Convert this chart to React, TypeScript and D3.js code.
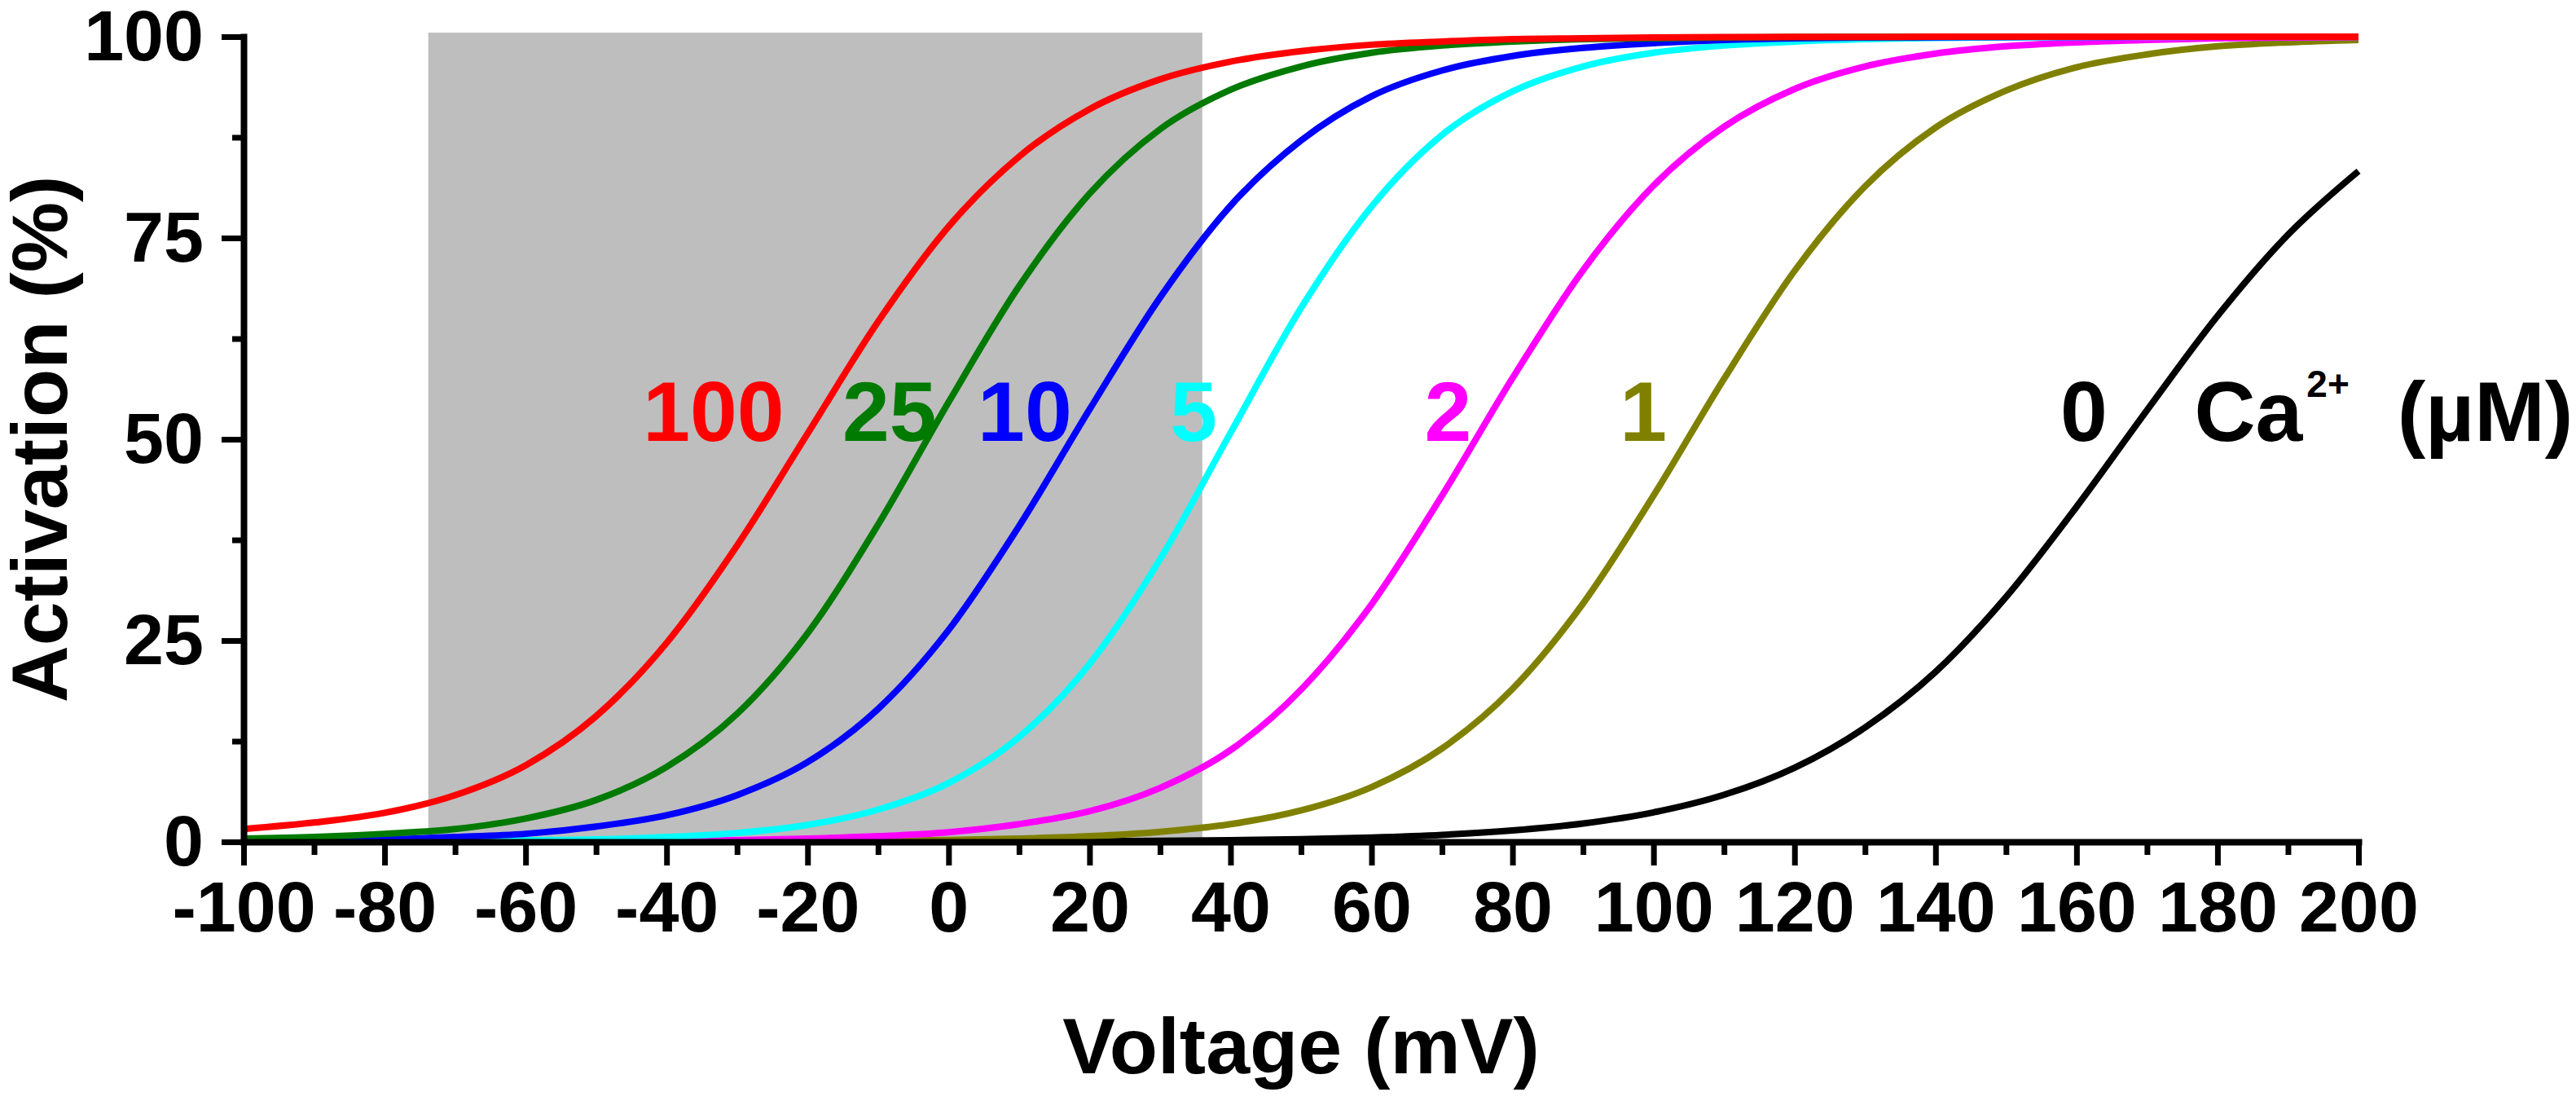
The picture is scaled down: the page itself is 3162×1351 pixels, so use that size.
import React, { useRef, useEffect } from 'react';
import * as d3 from 'd3';

// membrane voltage sample points (mV)
const voltages = [
  -100, -90, -80, -70, -60, -50, -40, -30, -20, -10, 0, 10, 20, 30, 40, 50,
  60, 70, 80, 90, 100, 110, 120, 130, 140, 150, 160, 170, 180, 190, 200,
];

// activation (%) at the voltages above
const act100 = [1.6, 2.4, 3.6, 5.8, 9.5, 15.6, 24.7, 36.8, 50.7, 64.6, 76.4, 85.1, 91.0, 94.7, 96.9, 98.2, 99.0, 99.4, 99.7, 99.8, 99.9, 99.95, 99.97, 99.98, 99.99, 100, 100, 100, 100, 100, 100];
const act25 = [0.4, 0.6, 1.0, 1.6, 2.9, 5.2, 9.3, 15.9, 25.9, 39.4, 54.6, 69.0, 80.5, 88.5, 93.4, 96.3, 98.0, 98.9, 99.4, 99.7, 99.8, 99.9, 99.95, 99.97, 99.99, 100, 100, 100, 100, 100, 100];
const act10 = [0.1, 0.2, 0.3, 0.6, 1.0, 1.9, 3.3, 5.8, 9.9, 16.5, 26.3, 39.2, 53.7, 67.6, 79.0, 87.1, 92.6, 95.8, 97.6, 98.6, 99.2, 99.6, 99.8, 99.9, 99.93, 99.96, 99.98, 99.99, 100, 100, 100];
const act5 = [0, 0, 0.05, 0.1, 0.2, 0.3, 0.6, 1.1, 2.1, 4.0, 7.3, 13.0, 22.1, 35.1, 50.8, 66.3, 78.9, 87.8, 93.2, 96.3, 98.0, 98.9, 99.4, 99.7, 99.85, 99.92, 99.96, 99.98, 99.99, 100, 100];
const act2 = [0, 0, 0, 0, 0.04, 0.07, 0.12, 0.2, 0.4, 0.7, 1.2, 2.2, 3.8, 6.7, 11.4, 18.9, 29.5, 43.0, 57.6, 71.0, 81.5, 88.8, 93.5, 96.3, 97.9, 98.8, 99.3, 99.6, 99.8, 99.9, 99.94];
const act1 = [0, 0, 0, 0, 0, 0, 0.02, 0.04, 0.07, 0.12, 0.22, 0.4, 0.7, 1.25, 2.2, 3.9, 6.8, 11.6, 19.0, 29.6, 43.0, 57.5, 70.9, 81.4, 88.7, 93.3, 96.2, 97.8, 98.8, 99.3, 99.6];
const act0 = [0, 0, 0, 0, 0, 0, 0, 0.01, 0.01, 0.02, 0.03, 0.05, 0.08, 0.13, 0.2, 0.33, 0.54, 0.87, 1.42, 2.28, 3.66, 5.84, 9.2, 14.2, 21.1, 30.4, 41.6, 53.6, 65.3, 75.4, 83.3];

// Ca2+ concentrations (µM), in drawing order (red last = on top)
const calcium = ['0', '1', '2', '5', '10', '25', '100'];
const seriesValues = [act0, act1, act2, act5, act10, act25, act100];
const seriesColors = ['#000000', '#808000', '#ff00ff', '#00ffff', '#0000ff', '#007a00', '#ff0000'];
// voltage where each curve label ends (right edge of the text)
const labelEnds = [164.4, 101.9, 74.2, 38.1, 17.5, -1.7, -23.3];

// shaded voltage window
const shadeRange = [-73.8, 36];

const xMajor = [-100, -80, -60, -40, -20, 0, 20, 40, 60, 80, 100, 120, 140, 160, 180, 200];
const xMinor = [-90, -70, -50, -30, -10, 10, 30, 50, 70, 90, 110, 130, 150, 170, 190];
const yMajor = [0, 25, 50, 75, 100];
const yMinor = [12.5, 37.5, 62.5, 87.5];

const W = 3162;
const H = 1351;
const FONT = '"Liberation Sans", Arial, sans-serif';

const App: React.FC = () => {
  const svgRef = useRef<SVGSVGElement>(null);

  useEffect(() => {
    if (!svgRef.current) return;
    const svg = d3.select(svgRef.current);
    svg.selectAll('*').remove();

    const x = d3.scaleLinear().domain([-100, 200]).range([299, 2895]);
    const y = d3.scaleLinear().domain([0, 100]).range([1033, 45]);

    // grey window
    svg.append('rect')
      .attr('x', x(shadeRange[0]))
      .attr('y', y(100.5))
      .attr('width', x(shadeRange[1]) - x(shadeRange[0]))
      .attr('height', y(0) - y(100.5))
      .attr('fill', '#bebebe');

    // curves
    const line = d3.line<number>()
      .x((_, i) => x(voltages[i]))
      .y(d => y(d))
      .curve(d3.curveMonotoneX);

    svg.append('g')
      .selectAll('path')
      .data(seriesValues)
      .join('path')
      .attr('d', d => line(d))
      .attr('fill', 'none')
      .attr('stroke', (_, i) => seriesColors[i])
      .attr('stroke-width', 8);

    // curve labels
    svg.append('g')
      .selectAll('text')
      .data(calcium)
      .join('text')
      .attr('x', (_, i) => x(labelEnds[i]))
      .attr('y', y(50) + 2)
      .attr('text-anchor', 'end')
      .attr('font-family', FONT)
      .attr('font-weight', 'bold')
      .attr('font-size', 104)
      .attr('fill', (_, i) => seriesColors[i])
      .text(d => d);

    const unit = svg.append('text')
      .attr('x', x(176.7))
      .attr('y', y(50) + 2)
      .attr('font-family', FONT)
      .attr('font-weight', 'bold')
      .attr('font-size', 104)
      .attr('fill', '#000');
    unit.append('tspan').text('Ca');
    unit.append('tspan').attr('dx', 5).attr('dy', -54).attr('font-size', 46).text('2+');
    unit.append('tspan').attr('dx', 30).attr('dy', 54).text(' (µM)');

    // axes
    const tickText = (d: d3.NumberValue) => String(d);
    const styleAxis = (g: d3.Selection<SVGGElement, unknown, null, undefined>) => {
      g.select('.domain').attr('stroke-width', 8).attr('stroke-linecap', 'square');
      g.selectAll('.tick line').attr('stroke-width', 7);
      g.selectAll('.tick text')
        .attr('font-family', FONT)
        .attr('font-weight', 'bold')
        .attr('font-size', 88)
        .attr('fill', '#000');
    };

    svg.append('g')
      .attr('transform', `translate(0,${y(0)})`)
      .call(d3.axisBottom(x).tickValues(xMinor).tickSize(16).tickSizeOuter(0).tickFormat(() => ''))
      .call(g => g.select('.domain').remove())
      .call(g => g.selectAll('.tick line').attr('stroke-width', 7));

    svg.append('g')
      .attr('transform', `translate(0,${y(0)})`)
      .call(d3.axisBottom(x).tickValues(xMajor).tickSize(29).tickSizeOuter(0).tickPadding(19).tickFormat(tickText))
      .call(styleAxis);

    svg.append('g')
      .attr('transform', `translate(${x(-100)},0)`)
      .call(d3.axisLeft(y).tickValues(yMinor).tickSize(14).tickSizeOuter(0).tickFormat(() => ''))
      .call(g => g.select('.domain').remove())
      .call(g => g.selectAll('.tick line').attr('stroke-width', 7));

    svg.append('g')
      .attr('transform', `translate(${x(-100)},0)`)
      .call(d3.axisLeft(y).tickValues(yMajor).tickSize(27).tickSizeOuter(0).tickPadding(22).tickFormat(tickText))
      .call(styleAxis);

    // axis titles
    svg.append('text')
      .attr('x', (x(-100) + x(200)) / 2)
      .attr('y', 1317)
      .attr('text-anchor', 'middle')
      .attr('font-family', FONT)
      .attr('font-weight', 'bold')
      .attr('font-size', 97)
      .text('Voltage (mV)');

    svg.append('text')
      .attr('transform', `translate(82,${(y(0) + y(100)) / 2}) rotate(-90)`)
      .attr('text-anchor', 'middle')
      .attr('font-family', FONT)
      .attr('font-weight', 'bold')
      .attr('font-size', 97)
      .text('Activation (%)');
  }, []);

  return (
    <svg
      ref={svgRef}
      width={W}
      height={H}
      viewBox={`0 0 ${W} ${H}`}
      style={{ position: 'absolute', left: 0, top: 0, background: '#fff' }}
    />
  );
};

export default App;
